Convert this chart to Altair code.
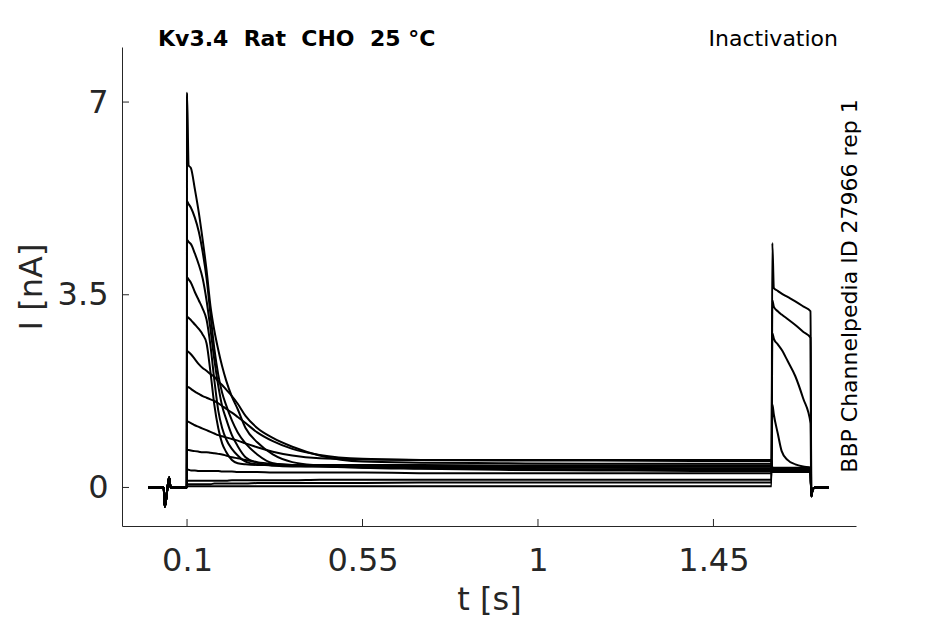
import altair as alt
import pandas as pd

# ---------------- data ----------------
TIME_BASE = [0.000, 0.040, 0.043, 0.050, 0.054, 0.058, 0.0995]
BASE_I = [0.0, 0.0, -0.35, 0.0, 0.18, 0.0, 0.0]

TIME_PRE = [0.100, 0.104, 0.110, 0.120, 0.130, 0.140, 0.150, 0.160, 0.170, 0.180,
            0.190, 0.200, 0.215, 0.230, 0.250, 0.280, 0.320, 0.370, 0.440, 0.550,
            0.700, 0.900, 1.150, 1.400, 1.599]
TIME_TEST = [1.601, 1.605, 1.615, 1.625, 1.640, 1.660, 1.680, 1.699]
TIME_TAIL = [1.701, 1.704, 1.710, 1.745]
TAIL_I = [-0.16, -0.05, 0.0, 0.0]

PRE_01 = [7.17, 5.85, 5.80, 5.42, 5.00, 4.50, 3.95, 3.30, 2.85, 2.50, 2.20, 1.95, 1.65, 1.42, 1.08, 0.82, 0.60, 0.46, 0.40, 0.36, 0.34, 0.32, 0.31, 0.30, 0.30]
PRE_02 = [5.20, 5.15, 5.08, 4.90, 4.65, 4.28, 3.80, 3.15, 2.52, 2.05, 1.72, 1.50, 1.22, 1.00, 0.80, 0.60, 0.44, 0.40, 0.38, 0.36, 0.35, 0.34, 0.33, 0.33, 0.33]
PRE_03 = [4.50, 4.46, 4.42, 4.25, 4.05, 3.80, 3.40, 2.88, 2.32, 1.85, 1.48, 1.25, 0.95, 0.75, 0.55, 0.45, 0.40, 0.38, 0.38, 0.37, 0.37, 0.36, 0.36, 0.35, 0.35]
PRE_04 = [3.82, 3.78, 3.72, 3.55, 3.40, 3.25, 3.05, 2.58, 1.95, 1.40, 1.08, 0.88, 0.70, 0.58, 0.47, 0.42, 0.40, 0.40, 0.40, 0.40, 0.39, 0.39, 0.38, 0.38, 0.38]
PRE_05 = [3.10, 3.08, 3.04, 2.96, 2.88, 2.78, 2.62, 2.10, 1.50, 1.08, 0.80, 0.65, 0.50, 0.44, 0.42, 0.41, 0.41, 0.41, 0.41, 0.41, 0.41, 0.40, 0.40, 0.40, 0.40]
PRE_06 = [2.48, 2.46, 2.42, 2.33, 2.24, 2.17, 2.12, 2.06, 2.01, 1.93, 1.86, 1.78, 1.66, 1.52, 1.30, 1.08, 0.90, 0.74, 0.58, 0.47, 0.45, 0.44, 0.43, 0.43, 0.43]
PRE_07 = [1.83, 1.82, 1.79, 1.74, 1.70, 1.66, 1.63, 1.60, 1.57, 1.53, 1.48, 1.43, 1.36, 1.28, 1.17, 1.00, 0.84, 0.70, 0.59, 0.52, 0.50, 0.49, 0.49, 0.48, 0.48]
PRE_08 = [1.20, 1.19, 1.17, 1.13, 1.10, 1.07, 1.04, 1.01, 0.98, 0.95, 0.93, 0.91, 0.88, 0.85, 0.80, 0.73, 0.65, 0.58, 0.53, 0.51, 0.50, 0.50, 0.50, 0.50, 0.50]
PRE_09 = [0.68, 0.68, 0.67, 0.66, 0.65, 0.64, 0.64, 0.63, 0.62, 0.61, 0.60, 0.58, 0.55, 0.53, 0.50, 0.46, 0.43, 0.41, 0.40, 0.39, 0.39, 0.39, 0.38, 0.38, 0.38]
PRE_10 = [0.32, 0.32, 0.31, 0.31, 0.30, 0.30, 0.30, 0.30, 0.30, 0.30, 0.29, 0.29, 0.29, 0.28, 0.28, 0.28, 0.27, 0.27, 0.27, 0.27, 0.26, 0.26, 0.26, 0.26, 0.26]
PRE_11 = [0.12, 0.12, 0.12, 0.12, 0.12, 0.12, 0.12, 0.12, 0.12, 0.12, 0.12, 0.12, 0.13, 0.13, 0.13, 0.13, 0.13, 0.13, 0.14, 0.14, 0.14, 0.14, 0.14, 0.14, 0.14]
PRE_12 = [0.06, 0.06, 0.06, 0.06, 0.06, 0.06, 0.06, 0.06, 0.07, 0.07, 0.07, 0.07, 0.07, 0.07, 0.07, 0.08, 0.08, 0.08, 0.08, 0.08, 0.09, 0.09, 0.09, 0.09, 0.09]
PRE_13 = [0.02, 0.02, 0.02, 0.02, 0.02, 0.02, 0.02, 0.02, 0.02, 0.02, 0.02, 0.02, 0.02, 0.02, 0.02, 0.02, 0.02, 0.02, 0.02, 0.02, 0.02, 0.02, 0.02, 0.02, 0.02]

TEST_01 = [0.28, 0.28, 0.28, 0.28, 0.28, 0.28, 0.28, 0.28]
TEST_02 = [0.29, 0.29, 0.29, 0.29, 0.29, 0.29, 0.29, 0.29]
TEST_03 = [0.30, 0.30, 0.30, 0.30, 0.30, 0.30, 0.30, 0.30]
TEST_04 = [0.31, 0.31, 0.31, 0.31, 0.31, 0.31, 0.31, 0.31]
TEST_05 = [0.32, 0.32, 0.32, 0.32, 0.32, 0.32, 0.32, 0.32]
TEST_06 = [0.33, 0.33, 0.33, 0.33, 0.33, 0.33, 0.33, 0.33]
TEST_07 = [0.34, 0.34, 0.34, 0.34, 0.34, 0.34, 0.34, 0.34]
TEST_08 = [0.35, 0.35, 0.35, 0.35, 0.35, 0.35, 0.35, 0.35]
TEST_09 = [0.36, 0.36, 0.36, 0.36, 0.36, 0.36, 0.36, 0.36]
TEST_10 = [1.51, 1.32, 0.98, 0.66, 0.50, 0.42, 0.38, 0.36]
TEST_11 = [2.80, 2.70, 2.60, 2.50, 2.30, 2.02, 1.62, 1.17]
TEST_12 = [3.40, 3.28, 3.20, 3.14, 3.06, 2.95, 2.83, 2.72]
TEST_13 = [4.44, 3.62, 3.57, 3.52, 3.46, 3.38, 3.29, 3.20]

PRES = [PRE_01, PRE_02, PRE_03, PRE_04, PRE_05, PRE_06, PRE_07, PRE_08, PRE_09,
        PRE_10, PRE_11, PRE_12, PRE_13]
TESTS = [TEST_01, TEST_02, TEST_03, TEST_04, TEST_05, TEST_06, TEST_07, TEST_08,
         TEST_09, TEST_10, TEST_11, TEST_12, TEST_13]

X_TICKS = [0.1, 0.55, 1, 1.45]
Y_TICKS = [0, 3.5, 7]

NB = "\u00a0"
TITLE_LEFT = f"Kv3.4 {NB}Rat {NB}CHO {NB}25 °C"
TITLE_RIGHT = "Inactivation"
SIDE_LABEL = "BBP Channelpedia ID 27966 rep 1"

# ---------------- build table ----------------
times = TIME_BASE + TIME_PRE + TIME_TEST + TIME_TAIL
rows = []
for k, (pre, test) in enumerate(zip(PRES, TESTS)):
    vals = BASE_I + pre + test + TAIL_I
    for t, v in zip(times, vals):
        rows.append({"trace": f"tr{k + 1:02d}", "t": t, "I": v})
df = pd.DataFrame(rows)

W, H = 734, 479
INK = "#262626"
FONT = "DejaVu Sans"

xscale = alt.Scale(domain=[-0.0668, 1.8156], nice=False, zero=False)
yscale = alt.Scale(domain=[-0.70, 8.0], nice=False, zero=False)
xaxis = alt.Axis(values=X_TICKS, labelExpr="'' + datum.value", ticks=False, tickSize=0,
                 grid=False, domainColor=INK, domainWidth=1, labelFontSize=32,
                 labelFont=FONT, labelColor=INK, labelPadding=19, titleFontSize=32,
                 titleFont=FONT, titleColor=INK, titleFontWeight="normal", titlePadding=8)
yaxis = alt.Axis(values=Y_TICKS, labelExpr="'' + datum.value", ticks=False, tickSize=0,
                 grid=False, domainColor=INK, domainWidth=1, labelFontSize=32,
                 labelFont=FONT, labelColor=INK, labelPadding=14, titleFontSize=32,
                 titleFont=FONT, titleColor=INK, titleFontWeight="normal", titlePadding=9)


def X(field):
    return alt.X(f"{field}:Q", scale=xscale, axis=xaxis, title="t [s]")


def Y(field):
    return alt.Y(f"{field}:Q", scale=yscale, axis=yaxis, title="I [nA]")


lines = alt.Chart(df).mark_line(color="black", strokeWidth=2, interpolate="monotone",
                                clip=True).encode(x=X("t"), y=Y("I"), detail="trace:N")

yt = alt.Chart(pd.DataFrame({"I": Y_TICKS})).mark_rule(color=INK, strokeWidth=1).encode(
    y=Y("I"), x=alt.value(0), x2=alt.value(7))
xt = alt.Chart(pd.DataFrame({"t": X_TICKS})).mark_rule(color=INK, strokeWidth=1).encode(
    x=X("t"), y=alt.value(H), y2=alt.value(H - 7))

t_left = alt.Chart(pd.DataFrame({"s": [TITLE_LEFT]})).mark_text(
    font=FONT, fontSize=22, fontWeight="bold", color="black", align="left",
    baseline="alphabetic").encode(text="s:N", x=alt.value(36), y=alt.value(-1))
t_right = alt.Chart(pd.DataFrame({"s": [TITLE_RIGHT]})).mark_text(
    font=FONT, fontSize=22, color="black", align="right",
    baseline="alphabetic").encode(text="s:N", x=alt.value(716), y=alt.value(-1))
t_side = alt.Chart(pd.DataFrame({"s": [SIDE_LABEL]})).mark_text(
    font=FONT, fontSize=22, color="black", align="center", angle=270,
    baseline="alphabetic").encode(text="s:N", x=alt.value(735), y=alt.value(239))

chart = alt.layer(lines, yt, xt, t_left, t_right, t_side).properties(
    width=W, height=H,
    autosize=alt.AutoSizeParams(type="none"),
    padding={"left": 114, "top": 39, "right": 81, "bottom": 92},
    background="white",
).configure_view(stroke=None)

chart.save("out.html", embed_options={"renderer": "svg", "actions": False})
